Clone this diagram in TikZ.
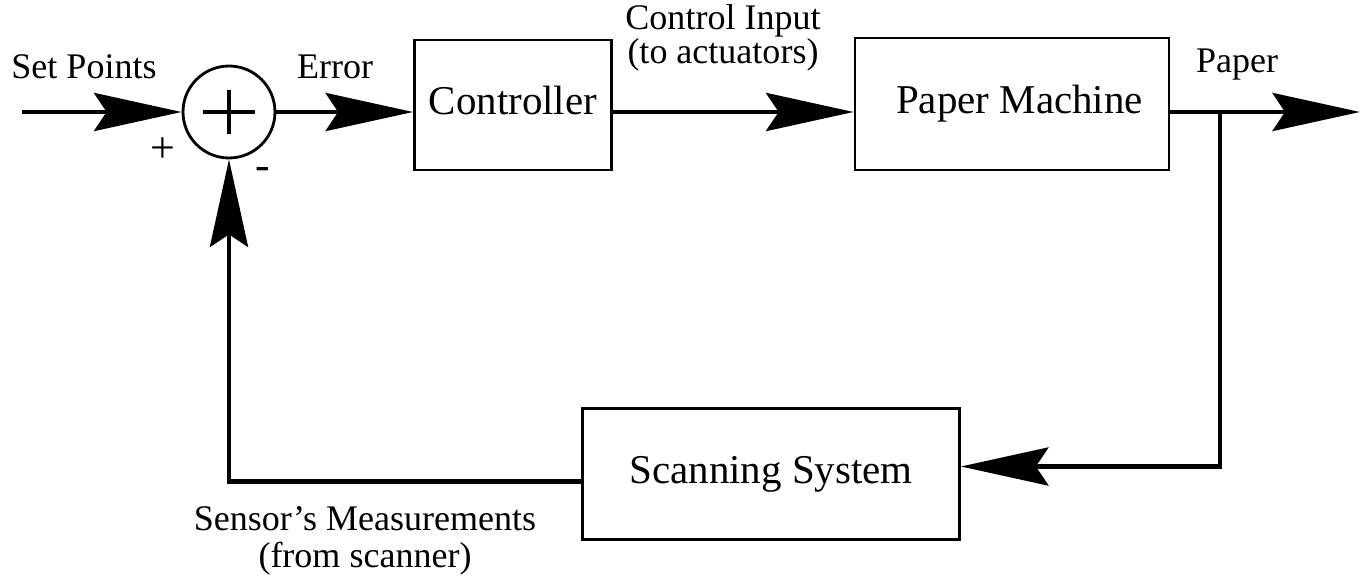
\documentclass[tikz,border=0pt]{standalone}
\usepackage{fontspec}
\setmainfont{Liberation Serif}
\usetikzlibrary{arrows.meta,positioning}

\begin{document}
\begin{tikzpicture}[x=0.02cm,y=-0.02cm,
	block/.style={draw,line width=1.6pt,inner sep=0pt,font=\fontsize{23.3}{28}\selectfont},
	sig/.style={line width=2.8pt,-{Stealth[length=1.75cm,width=0.76cm,inset=0.25cm]}},
	wire/.style={line width=2.8pt},
	lbl/.style={font=\fontsize{20.5}{18}\selectfont,inner sep=0pt,align=center}]

	\useasboundingbox (0,0) rectangle (1362,577);

	% blocks
	\node[block,minimum width=3.94cm,minimum height=2.6cm,text depth=0.2cm] (ctrl) at (513,105) {Controller};
	\node[block,minimum width=6.28cm,minimum height=2.64cm] (pm) at (1012,104) {\hspace{0.3cm}Paper Machine};
	\node[block,minimum width=7.54cm,minimum height=2.62cm] (scan) at (771,474) {Scanning System};

	% summing junction
	\node[draw,circle,line width=1.6pt,minimum size=1.84cm,inner sep=0pt] (sum) at (229,112) {};
	\draw[wire] ([xshift=-0.52cm]sum.center) -- ([xshift=0.52cm]sum.center);
	\draw[wire] ([yshift=0.45cm]sum.center) -- ([yshift=-0.45cm]sum.center);

	% free ends
	\coordinate (in) at (22,112);
	\coordinate (out) at (1360,112);
	\coordinate (split) at (1220,112);

	% forward path
	\draw[sig] (in) -- (sum.west);
	\draw[sig] (sum.east) -- (sum -| ctrl.west);
	\draw[sig] (sum -| ctrl.east) -- (sum -| pm.west);
	\draw[sig] (sum -| pm.east) -- (out);

	% feedback path
	\draw[sig] (split) |- ([yshift=0.15cm]scan.east);
	\draw[sig] ([yshift=-0.15cm]scan.west) -| (sum.south);

	% labels
	\node[lbl] (sp) at (84,67) {Set Points};
	\node[lbl] (err) at (335,67) {Error};
	\node[lbl] (ci) at (723,38) {Control Input\\(to actuators)};
	\node[lbl] (pap) at (1237,65) {Paper};
	\node[lbl,font=\fontsize{25}{25}\selectfont] (plus) at (163,150) {+};
	\node[lbl,font=\fontsize{25}{25}\selectfont] (minus) at (263,174) {-};
	\node[lbl,font=\fontsize{20.5}{21}\selectfont] (meas) at (365,541) {Sensor's Measurements\\(from scanner)};

\end{tikzpicture}
\end{document}
